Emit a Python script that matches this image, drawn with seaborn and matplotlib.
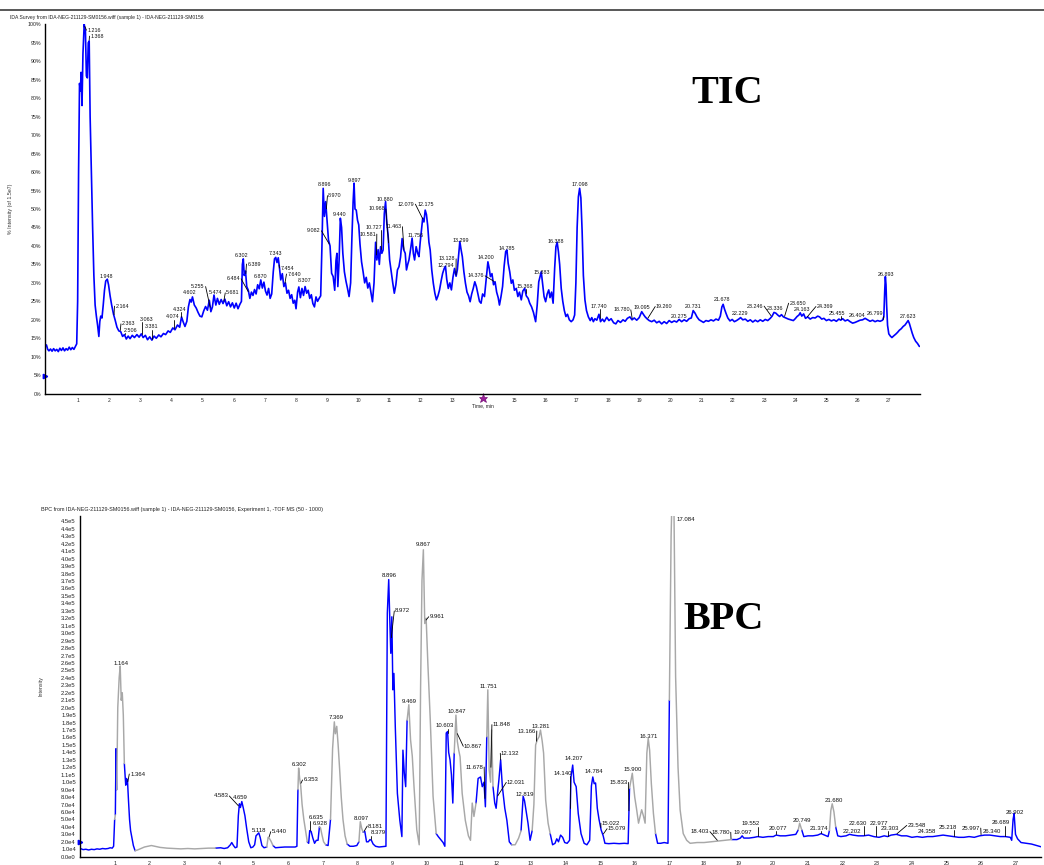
import numpy as np
import pandas as pd
import matplotlib
matplotlib.use("Agg")
import matplotlib.pyplot as plt
import seaborn as sns
from matplotlib.lines import Line2D

# ---------------- DATA ----------------
TIC_TITLE = "IDA Survey from IDA-NEG-211129-SM0156.wiff (sample 1) - IDA-NEG-211129-SM0156"
BPC_TITLE = "BPC from IDA-NEG-211129-SM0156.wiff (sample 1) - IDA-NEG-211129-SM0156, Experiment 1, -TOF MS (50 - 1000)"
TIC_YLABEL = "% Intensity (of 1.5e7)"
BPC_YLABEL = "Intensity"
XLABEL = "Time, min"

# TIC trace: time (min), % intensity
TIC_TIME = [0.00, 0.04, 0.08, 0.13, 0.18, 0.23, 0.28, 0.33, 0.38, 0.43, 0.48, 0.53, 0.58, 0.63, 0.68, 0.73, 0.78, 0.83, 0.88, 0.93,
            0.97, 1.00, 1.03, 1.06, 1.09, 1.11, 1.14, 1.17, 1.21, 1.25, 1.28, 1.31, 1.34, 1.37, 1.40, 1.44, 1.48, 1.52, 1.56, 1.60,
            1.64, 1.68, 1.71, 1.74, 1.78, 1.82, 1.86, 1.90, 1.95, 1.99, 2.04, 2.09, 2.15, 2.20, 2.26, 2.32, 2.38, 2.44, 2.50, 2.56,
            2.62, 2.68, 2.75, 2.82, 2.90, 2.97, 3.04, 3.10, 3.17, 3.24, 3.31, 3.38, 3.45, 3.52, 3.60, 3.67, 3.75, 3.82, 3.90, 3.97,
            4.05, 4.12, 4.20, 4.27, 4.33, 4.38, 4.44, 4.50, 4.55, 4.60, 4.64, 4.68, 4.74, 4.80, 4.86, 4.92, 4.98, 5.04, 5.10, 5.16,
            5.22, 5.27, 5.32, 5.37, 5.43, 5.48, 5.54, 5.60, 5.66, 5.72, 5.78, 5.84, 5.90, 5.96, 6.02, 6.08, 6.14, 6.20, 6.25, 6.28,
            6.31, 6.34, 6.38, 6.42, 6.47, 6.52, 6.57, 6.62, 6.67, 6.72, 6.77, 6.82, 6.87, 6.92, 6.97, 7.02, 7.07, 7.12, 7.17, 7.22,
            7.27, 7.31, 7.35, 7.39, 7.43, 7.47, 7.51, 7.56, 7.61, 7.66, 7.71, 7.76, 7.81, 7.86, 7.91, 7.96, 8.00, 8.05, 8.09, 8.14,
            8.19, 8.24, 8.29, 8.34, 8.39, 8.44, 8.49, 8.54, 8.59, 8.64, 8.69, 8.74, 8.79, 8.83, 8.87, 8.91, 8.95, 8.99, 9.04, 9.09,
            9.14, 9.19, 9.24, 9.28, 9.31, 9.34, 9.38, 9.42, 9.46, 9.50, 9.55, 9.60, 9.65, 9.70, 9.75, 9.79, 9.83, 9.86, 9.89, 9.93,
            9.97, 10.01, 10.05, 10.10, 10.15, 10.20, 10.25, 10.30, 10.35, 10.40, 10.45, 10.50, 10.55, 10.59, 10.63, 10.67, 10.71, 10.75, 10.79, 10.83,
            10.87, 10.91, 10.95, 11.00, 11.05, 11.10, 11.15, 11.20, 11.25, 11.30, 11.35, 11.40, 11.45, 11.50, 11.54, 11.58, 11.62, 11.67, 11.72, 11.76,
            11.80, 11.85, 11.90, 11.94, 11.98, 12.02, 12.06, 12.10, 12.14, 12.18, 12.22, 12.26, 12.30, 12.35, 12.40, 12.45, 12.50, 12.55, 12.60, 12.65,
            12.70, 12.75, 12.79, 12.83, 12.88, 12.93, 12.98, 13.03, 13.08, 13.13, 13.17, 13.21, 13.25, 13.29, 13.33, 13.38, 13.43, 13.48, 13.53, 13.58,
            13.63, 13.68, 13.73, 13.78, 13.83, 13.88, 13.93, 13.98, 14.04, 14.09, 14.15, 14.19, 14.23, 14.28, 14.33, 14.38, 14.43, 14.48, 14.52, 14.57,
            14.62, 14.67, 14.72, 14.76, 14.80, 14.85, 14.90, 14.95, 15.00, 15.06, 15.11, 15.16, 15.22, 15.27, 15.33, 15.38, 15.44, 15.49, 15.55, 15.61,
            15.68, 15.73, 15.78, 15.82, 15.86, 15.90, 15.95, 16.00, 16.05, 16.10, 16.14, 16.19, 16.24, 16.29, 16.33, 16.37, 16.41, 16.45, 16.50, 16.55,
            16.60, 16.65, 16.70, 16.76, 16.82, 16.88, 16.93, 16.97, 17.01, 17.05, 17.09, 17.13, 17.17, 17.21, 17.26, 17.31, 17.37, 17.43, 17.48, 17.53,
            17.58, 17.64, 17.71, 17.76, 17.82, 17.88, 17.96, 18.03, 18.10, 18.18, 18.25, 18.32, 18.40, 18.48, 18.55, 18.62, 18.70, 18.77, 18.84, 18.92,
            19.00, 19.08, 19.14, 19.19, 19.26, 19.32, 19.40, 19.48, 19.56, 19.64, 19.72, 19.80, 19.88, 19.96, 20.04, 20.12, 20.20, 20.28, 20.36, 20.44,
            20.52, 20.60, 20.67, 20.73, 20.79, 20.85, 20.92, 21.00, 21.06, 21.14, 21.22, 21.30, 21.38, 21.46, 21.54, 21.60, 21.65, 21.69, 21.73, 21.78,
            21.84, 21.91, 21.98, 22.05, 22.12, 22.19, 22.25, 22.32, 22.40, 22.48, 22.56, 22.64, 22.72, 22.80, 22.88, 22.96, 23.04, 23.12, 23.20, 23.26,
            23.32, 23.38, 23.44, 23.50, 23.56, 23.62, 23.70, 23.78, 23.86, 23.94, 24.00, 24.06, 24.12, 24.16, 24.21, 24.27, 24.33, 24.40, 24.48, 24.56,
            24.64, 24.72, 24.78, 24.85, 24.92, 25.00, 25.08, 25.16, 25.24, 25.32, 25.40, 25.46, 25.52, 25.60, 25.68, 25.76, 25.84, 25.92, 26.00, 26.08,
            26.16, 26.24, 26.32, 26.40, 26.48, 26.56, 26.64, 26.72, 26.80, 26.84, 26.87, 26.89, 26.91, 26.93, 26.96, 27.00, 27.05, 27.10, 27.15, 27.22,
            27.28, 27.34, 27.40, 27.46, 27.52, 27.57, 27.62, 27.66, 27.70, 27.75, 27.80, 27.86, 27.92, 27.98]
TIC_PCT = [13.2, 12.0, 11.6, 12.1, 11.5, 12.2, 11.6, 12.0, 11.4, 12.3, 11.7, 12.4, 11.6, 12.2, 11.8, 12.6, 11.9, 12.5, 12.0, 12.8,
           13.5, 25.0, 60.0, 84.0, 82.0, 87.0, 78.0, 92.0, 100.0, 98.0, 86.0, 85.5, 95.0, 95.5, 75.0, 60.0, 45.0, 32.0, 24.0, 21.0,
           18.5, 15.5, 19.5, 21.0, 20.5, 24.0, 28.0, 30.5, 31.0, 29.5, 26.5, 24.0, 21.5, 20.0, 18.0, 17.0, 16.8, 15.5, 16.0, 14.8,
           15.6, 14.9, 15.8, 15.2, 16.0, 15.3, 16.2, 15.2, 15.8, 14.6, 15.4, 14.5, 15.6, 15.0, 15.9, 15.4, 16.3, 16.0, 17.0, 16.6,
           17.8, 17.3, 18.6, 18.0, 20.8, 19.5, 18.2, 19.6, 23.5, 25.5, 24.8, 26.2, 24.0, 23.2, 22.0, 21.0, 20.8, 22.4, 23.6, 22.6,
           25.3, 22.2, 23.5, 26.7, 24.0, 25.8, 24.2, 25.5, 24.4, 25.6, 23.8, 24.9, 23.5, 24.6, 23.2, 24.5, 23.0, 24.2, 25.0, 35.0,
           36.5, 32.0, 33.2, 29.0, 28.0, 25.8, 27.5, 26.6, 28.2, 27.0, 29.5, 28.4, 30.8, 28.6, 30.2, 27.8, 26.7, 28.5, 25.8, 27.0,
           33.0, 36.5, 36.9, 35.5, 36.8, 34.0, 30.8, 32.5, 29.0, 30.0, 27.2, 28.0, 25.8, 26.8, 24.5, 25.3, 23.0, 27.5, 28.9, 26.0,
           28.5, 26.6, 29.0, 27.2, 28.0, 25.8, 26.8, 24.4, 23.5, 26.2, 25.0, 25.8, 26.5, 39.8, 55.6, 48.0, 52.0, 47.5, 41.6, 40.0,
           32.6, 31.7, 28.0, 36.0, 38.0, 29.0, 36.0, 47.5, 45.0, 38.0, 33.0, 30.5, 28.5, 26.3, 30.0, 42.0, 52.0, 57.0, 50.0, 49.7,
           47.0, 45.7, 40.5, 35.7, 33.0, 30.0, 31.5, 28.6, 30.0, 27.5, 24.9, 30.0, 41.0, 36.2, 39.0, 35.0, 39.8, 38.0, 38.9, 48.8,
           52.0, 46.1, 43.0, 36.2, 33.0, 30.0, 27.2, 29.5, 33.5, 34.4, 37.0, 42.0, 39.0, 38.0, 33.5, 35.0, 36.2, 39.0, 42.1, 38.0,
           36.2, 39.8, 38.0, 37.1, 41.0, 44.3, 47.5, 46.5, 49.7, 48.5, 45.5, 41.0, 38.9, 33.5, 29.9, 27.2, 25.4, 26.5, 28.1, 30.5,
           32.6, 33.9, 34.5, 31.0, 28.5, 30.0, 28.1, 31.5, 33.9, 31.8, 33.5, 37.5, 41.2, 39.0, 37.1, 33.0, 29.9, 27.5, 26.5, 24.9,
           27.0, 28.5, 30.3, 29.0, 27.0, 25.0, 24.5, 27.0, 26.3, 30.5, 35.7, 34.0, 31.7, 32.5, 29.5, 30.3, 27.5, 26.0, 24.0, 26.3,
           29.0, 34.5, 38.5, 38.9, 35.3, 33.0, 29.9, 30.8, 28.0, 28.5, 26.3, 27.5, 25.4, 27.8, 28.5, 26.5, 25.8, 24.5, 23.5, 22.0,
           19.5, 24.0, 30.3, 31.7, 33.0, 30.0, 26.3, 24.9, 27.0, 28.1, 26.0, 27.5, 24.5, 34.0, 39.8, 41.0, 38.5, 35.0, 28.5, 25.0,
           22.5, 20.9, 21.5, 20.0, 19.5, 20.0, 21.3, 30.0, 45.0, 53.3, 55.6, 53.0, 44.0, 32.0, 25.4, 22.5, 20.8, 19.8, 20.6, 19.5,
           20.3, 19.9, 21.5, 19.5, 20.2, 19.5, 20.7, 19.8, 20.3, 19.2, 18.9, 19.8, 19.3, 20.0, 19.6, 20.4, 20.8, 20.0, 20.5, 19.9,
           20.6, 22.2, 21.4, 20.8, 20.2, 19.8, 19.5, 19.9, 19.2, 19.6, 18.9, 19.5, 19.0, 19.8, 19.3, 19.7, 19.4, 20.1, 19.5, 20.0,
           19.6, 20.3, 20.5, 22.5, 21.8, 20.8, 20.0, 19.6, 19.3, 19.8, 19.6, 20.0, 19.7, 20.2, 19.9, 21.0, 23.5, 24.2, 23.0, 21.8,
           20.5, 19.7, 20.1, 19.5, 19.8, 20.2, 20.6, 20.0, 20.2, 19.6, 20.0, 19.4, 19.9, 19.5, 20.0, 19.6, 20.1, 19.8, 20.4, 21.0,
           22.0, 21.8, 21.3, 20.9, 21.4, 20.8, 20.5, 20.2, 20.0, 19.8, 20.3, 20.9, 21.3, 21.9, 21.0, 21.6, 20.4, 20.8, 20.2, 20.6,
           20.5, 21.0, 20.8, 20.2, 20.4, 19.8, 20.1, 19.7, 20.0, 19.6, 20.2, 19.9, 20.3, 19.7, 20.0, 19.5, 19.1, 19.3, 19.6, 19.9,
           20.0, 20.4, 20.0, 19.6, 19.9, 19.5, 19.8, 19.6, 19.9, 20.8, 28.0, 31.7, 29.5, 24.0, 18.5, 16.2, 15.6, 15.2, 15.6, 16.1,
           16.6, 17.2, 17.6, 18.2, 18.6, 19.2, 19.8, 19.0, 17.8, 16.4, 15.2, 14.2, 13.6, 12.8]

TIC_LABELS = ["1.216", "1.368", "1.948", "2.164", "2.363", "2.506", "3.063", "3.381", "4.074", "4.324",
              "4.602", "5.255", "5.474", "5.681", "6.302", "6.389", "6.484", "6.870", "7.343", "7.454",
              "7.640", "8.307", "8.896", "8.970", "9.082", "9.440", "9.897", "10.581", "10.727", "10.968",
              "10.880", "11.463", "11.756", "12.079", "12.175", "13.128", "12.794", "13.299", "14.200", "14.376",
              "14.785", "15.368", "15.883", "16.388", "17.098", "17.740", "18.780", "19.095", "19.260", "20.275",
              "20.731", "21.678", "22.229", "23.246", "23.336", "23.650", "24.163", "24.369", "25.455", "26.404",
              "26.799", "26.893", "27.623"]

# BPC trace: time (min), intensity in units of 1e4 counts
BPC_TIME = [0.00, 0.08, 0.16, 0.24, 0.32, 0.40, 0.48, 0.56, 0.64, 0.72, 0.80, 0.86, 0.92, 0.96, 0.99, 1.01, 1.03, 1.05, 1.08, 1.12,
            1.15, 1.18, 1.21, 1.24, 1.27, 1.29, 1.31, 1.33, 1.36, 1.39, 1.42, 1.45, 1.49, 1.53, 1.58, 1.65, 1.75, 1.85, 1.95, 2.05,
            2.15, 2.30, 2.50, 2.70, 2.90, 3.10, 3.30, 3.50, 3.70, 3.90, 4.05, 4.15, 4.25, 4.33, 4.37, 4.42, 4.47, 4.52, 4.56, 4.59,
            4.62, 4.66, 4.70, 4.75, 4.80, 4.86, 4.92, 4.98, 5.03, 5.07, 5.11, 5.15, 5.19, 5.24, 5.30, 5.38, 5.42, 5.45, 5.50, 5.56,
            5.63, 5.75, 5.90, 6.05, 6.20, 6.25, 6.28, 6.30, 6.33, 6.36, 6.40, 6.45, 6.50, 6.55, 6.59, 6.62, 6.66, 6.71, 6.76, 6.81,
            6.86, 6.90, 6.93, 6.97, 7.02, 7.08, 7.15, 7.22, 7.28, 7.33, 7.36, 7.40, 7.44, 7.48, 7.53, 7.58, 7.64, 7.70, 7.78, 7.88,
            7.98, 8.04, 8.08, 8.12, 8.16, 8.21, 8.26, 8.31, 8.36, 8.40, 8.45, 8.52, 8.62, 8.72, 8.82, 8.86, 8.90, 8.93, 8.96, 8.99,
            9.02, 9.05, 9.09, 9.15, 9.22, 9.28, 9.31, 9.35, 9.39, 9.43, 9.48, 9.53, 9.58, 9.63, 9.71, 9.78, 9.82, 9.86, 9.90, 9.94,
            9.98, 10.03, 10.10, 10.18, 10.27, 10.33, 10.40, 10.47, 10.52, 10.56, 10.60, 10.63, 10.67, 10.71, 10.75, 10.79, 10.84, 10.88, 10.92, 10.96,
            11.02, 11.11, 11.20, 11.26, 11.31, 11.36, 11.42, 11.48, 11.55, 11.60, 11.65, 11.69, 11.73, 11.76, 11.80, 11.84, 11.87, 11.91, 11.96, 12.00,
            12.04, 12.08, 12.13, 12.18, 12.25, 12.31, 12.38, 12.45, 12.55, 12.65, 12.72, 12.78, 12.82, 12.86, 12.92, 12.98, 13.04, 13.09, 13.14, 13.19,
            13.24, 13.28, 13.33, 13.37, 13.43, 13.50, 13.56, 13.63, 13.70, 13.75, 13.80, 13.86, 13.92, 13.98, 14.05, 14.12, 14.16, 14.21, 14.25, 14.31,
            14.37, 14.45, 14.54, 14.62, 14.70, 14.75, 14.79, 14.83, 14.87, 14.92, 14.97, 15.03, 15.09, 15.14, 15.25, 15.40, 15.55, 15.70, 15.81, 15.85,
            15.93, 16.00, 16.05, 16.11, 16.16, 16.20, 16.25, 16.30, 16.35, 16.39, 16.43, 16.48, 16.54, 16.60, 16.66, 16.75, 16.85, 16.96, 17.00, 17.05,
            17.08, 17.13, 17.18, 17.25, 17.31, 17.40, 17.50, 17.60, 17.80, 18.00, 18.20, 18.40, 18.60, 18.80, 18.95, 19.05, 19.10, 19.15, 19.30, 19.45,
            19.55, 19.70, 19.85, 20.00, 20.08, 20.20, 20.35, 20.50, 20.65, 20.72, 20.76, 20.82, 20.88, 21.00, 21.14, 21.28, 21.38, 21.48, 21.58, 21.62,
            21.66, 21.70, 21.75, 21.80, 21.86, 21.95, 22.10, 22.20, 22.30, 22.45, 22.60, 22.75, 22.90, 23.05, 23.20, 23.30, 23.40, 23.55, 23.70, 23.85,
            24.00, 24.15, 24.30, 24.45, 24.60, 24.75, 24.90, 25.05, 25.20, 25.35, 25.50, 25.65, 25.80, 25.95, 26.10, 26.25, 26.40, 26.55, 26.70, 26.84,
            26.88, 26.92, 26.95, 26.99, 27.05, 27.15, 27.30, 27.45, 27.60, 27.75, 27.80]
BPC_INT = [1.1, 0.95, 1.0, 0.9, 1.0, 0.95, 1.05, 1.0, 1.1, 1.05, 1.1, 1.2, 1.15, 1.4, 5.0, 5.6, 14.5, 9.0, 20.0, 24.0,
           25.6, 21.0, 22.0, 19.0, 12.5, 11.0, 9.6, 10.5, 10.3, 7.5, 5.0, 3.5, 2.5, 1.5, 0.8, 0.9, 1.1, 1.3, 1.4, 1.5,
           1.4, 1.25, 1.15, 1.1, 1.05, 1.1, 1.05, 1.1, 1.15, 1.15, 1.2, 1.1, 1.2, 1.6, 1.9, 1.5, 1.2, 1.3, 5.5, 7.1,
           6.6, 7.4, 6.6, 5.5, 3.8, 2.0, 1.2, 1.3, 1.6, 2.8, 3.0, 3.2, 2.6, 1.5, 1.2, 1.3, 2.6, 2.5, 2.1, 1.5,
           1.2, 1.25, 1.3, 1.3, 1.3, 1.4, 9.0, 11.9, 10.5, 9.5, 7.0, 5.0, 3.5, 2.0, 1.8, 3.5, 3.4, 2.5, 1.8, 2.2,
           2.2, 4.0, 3.9, 3.0, 2.0, 1.6, 1.5, 5.0, 14.5, 18.1, 16.5, 17.5, 15.0, 12.0, 8.0, 5.0, 2.8, 1.7, 1.4, 1.4,
           1.5, 2.0, 4.7, 3.8, 3.3, 3.4, 2.0, 2.0, 2.3, 2.2, 1.7, 1.4, 1.3, 1.35, 1.4, 32.7, 37.2, 32.0, 27.3, 32.2,
           22.4, 24.6, 17.4, 8.5, 4.9, 2.7, 14.3, 11.2, 9.4, 18.3, 20.4, 15.7, 13.5, 9.4, 3.6, 1.6, 22.8, 37.1, 41.2, 31.3,
           32.0, 25.9, 18.3, 8.1, 3.1, 2.7, 2.3, 1.9, 1.4, 16.6, 16.8, 14.0, 13.0, 11.0, 7.2, 13.9, 19.0, 15.5, 14.3, 13.4,
           8.5, 4.9, 2.8, 2.2, 7.2, 5.4, 7.2, 10.5, 10.7, 9.4, 10.0, 6.7, 16.1, 22.4, 11.6, 10.0, 17.0, 9.4, 7.2, 6.5,
           8.5, 10.3, 13.0, 9.4, 6.5, 4.9, 2.0, 1.6, 1.6, 2.5, 3.5, 8.1, 7.5, 6.3, 4.5, 2.2, 3.5, 7.0, 15.0, 15.7,
           16.1, 17.0, 15.5, 13.9, 7.6, 4.5, 3.1, 1.6, 1.8, 2.4, 2.0, 2.9, 2.6, 1.9, 1.8, 2.2, 10.7, 12.3, 10.0, 9.4,
           5.8, 3.1, 1.8, 1.6, 2.2, 9.5, 10.7, 9.8, 9.9, 6.5, 5.0, 3.6, 2.8, 1.8, 1.75, 1.8, 1.75, 1.8, 1.75, 9.2,
           11.2, 8.0, 6.5, 4.5, 5.5, 6.3, 5.5, 4.5, 13.9, 15.9, 14.3, 9.8, 5.8, 3.1, 1.8, 1.8, 1.9, 1.8, 21.0, 43.0,
           49.0, 48.0, 24.2, 12.0, 6.3, 3.1, 2.2, 1.8, 1.9, 1.9, 2.0, 2.1, 2.2, 2.3, 2.3, 2.5, 2.8, 2.5, 2.5, 2.6,
           2.7, 2.6, 2.7, 2.7, 2.9, 2.8, 2.8, 2.9, 3.0, 3.6, 4.5, 3.6, 2.7, 2.8, 2.8, 2.9, 3.1, 2.9, 2.7, 3.5,
           6.2, 7.1, 6.0, 4.0, 2.8, 2.7, 2.8, 3.0, 2.9, 2.8, 2.8, 2.9, 2.7, 2.6, 2.8, 2.7, 2.9, 3.0, 2.8, 2.8,
           2.6, 2.7, 2.6, 2.7, 2.7, 2.8, 2.9, 2.8, 2.7, 2.6, 2.6, 2.7, 2.6, 2.8, 2.9, 2.9, 2.8, 2.7, 2.7, 2.6,
           2.2, 5.0, 5.8, 3.0, 2.4, 1.9, 1.8, 1.7, 1.5, 1.3, 1.2]

# time windows drawn in grey in the BPC trace
BPC_GREY_WINDOWS = [(0.97, 1.02), (1.05, 1.28), (1.58, 4.02), (5.38, 5.60), (6.26, 6.58), (6.88, 7.10),
                    (7.18, 7.75), (8.03, 8.18), (9.42, 10.30), (10.77, 11.43), (11.70, 11.93), (12.45, 12.75),
                    (13.00, 13.60), (15.83, 16.62), (16.98, 18.90), (20.70, 20.86), (21.60, 21.85)]

BPC_LABELS = ["1.164", "1.364", "4.583", "4.659", "5.118", "5.440", "6.302", "6.353", "6.635", "6.928",
              "7.369", "8.097", "8.181", "8.379", "8.896", "8.972", "9.867", "9.961", "9.469", "10.603",
              "10.847", "10.867", "11.678", "11.751", "11.848", "12.132", "12.031", "12.819", "13.166", "13.281",
              "14.140", "14.207", "14.784", "15.022", "15.079", "15.833", "15.900", "16.371", "17.084", "18.403",
              "18.780", "19.097", "19.552", "20.077", "20.749", "21.374", "21.680", "22.202", "22.630", "22.977",
              "23.303", "23.548", "24.358", "25.218", "25.997", "26.340", "26.689", "26.902"]

TIC_YTICKS = [0, 5, 10, 15, 20, 25, 30, 35, 40, 45, 50, 55, 60, 65, 70, 75, 80, 85, 90, 95, 100]
TIC_YTICK_LABELS = ["0%", "5%", "10%", "15%", "20%", "25%", "30%", "35%", "40%", "45%", "50%", "55%", "60%",
                    "65%", "70%", "75%", "80%", "85%", "90%", "95%", "100%"]
XTICKS = [1, 2, 3, 4, 5, 6, 7, 8, 9, 10, 11, 12, 13, 14, 15, 16, 17, 18, 19, 20, 21, 22, 23, 24, 25, 26, 27]
TIC_XTICK_LABELS = ["1", "2", "3", "4", "5", "6", "7", "8", "9", "10", "11", "12", "13", "", "15", "16", "17",
                    "18", "19", "20", "21", "22", "23", "24", "25", "26", "27"]
BPC_XTICK_LABELS = ["1", "2", "3", "4", "5", "6", "7", "8", "9", "10", "11", "12", "13", "14", "15", "16", "17",
                    "18", "19", "20", "21", "22", "23", "24", "25", "26", "27"]
BPC_YTICKS = list(range(0, 46))
BPC_YTICK_LABELS = ["0.0e0", "1.0e4", "2.0e4", "3.0e4", "4.0e4", "5.0e4", "6.0e4", "7.0e4", "8.0e4", "9.0e4",
                    "1.0e5", "1.1e5", "1.2e5", "1.3e5", "1.4e5", "1.5e5", "1.6e5", "1.7e5", "1.8e5", "1.9e5",
                    "2.0e5", "2.1e5", "2.2e5", "2.3e5", "2.4e5", "2.5e5", "2.6e5", "2.7e5", "2.8e5", "2.9e5",
                    "3.0e5", "3.1e5", "3.2e5", "3.3e5", "3.4e5", "3.5e5", "3.6e5", "3.7e5", "3.8e5", "3.9e5",
                    "4.0e5", "4.1e5", "4.2e5", "4.3e5", "4.4e5", "4.5e5"]

# ---------------- LAYOUT (annotation placement, data units) ----------------
TIC_LABEL_POS = [(1.526, 98.4), (1.622, 96.8), (1.910, 31.6), (2.423, 23.7), (2.631, 18.9), (2.702, 17.2),
                 (3.224, 20.2), (3.375, 18.1), (4.058, 20.8), (4.282, 22.9), (4.603, 27.3), (4.859, 29.0),
                 (5.436, 27.3), (5.974, 27.3), (6.260, 37.4), (6.654, 35.1), (5.997, 31.1), (6.872, 31.8),
                 (7.337, 38.0), (7.712, 34.0), (7.936, 32.4), (8.288, 30.6), (8.897, 56.5), (9.250, 53.6),
                 (8.571, 44.1), (9.410, 48.4), (9.869, 57.6), (10.298, 43.2), (10.490, 45.1), (10.587, 50.0),
                 (10.837, 52.6), (11.119, 45.2), (11.837, 42.9), (11.535, 51.3), (12.151, 51.1), (12.840, 36.5),
                 (12.792, 34.8), (13.279, 41.6), (14.090, 36.9), (13.769, 31.9), (14.763, 39.4), (15.340, 29.0),
                 (15.891, 32.9), (16.333, 41.1), (17.103, 56.6), (17.721, 23.6), (18.439, 22.7), (19.090, 23.4),
                 (19.804, 23.6), (20.276, 21.0), (20.740, 23.6), (21.654, 25.4), (22.231, 21.8), (22.712, 23.7),
                 (23.353, 23.0), (24.080, 24.5), (24.208, 22.7), (24.955, 23.6), (25.330, 21.8), (25.981, 21.3),
                 (26.558, 21.8), (26.901, 32.4), (27.625, 20.8)]
TIC_LINKED = {"1.216", "1.368", "2.164", "2.363", "2.506", "3.063", "3.381", "4.074", "4.324", "5.255",
              "5.681", "6.389", "6.484", "7.454", "7.640", "8.970", "9.082", "10.581", "10.727", "10.968",
              "11.463", "12.079", "13.128", "14.376", "15.368", "17.740", "18.780", "19.260", "23.246",
              "23.650", "24.369", "25.455", "26.799"}

BPC_LABEL_POS = [(1.183, 25.96), (1.651, 11.10), (4.061, 8.15), (4.623, 7.92), (5.152, 3.58), (5.734, 3.36),
                 (6.312, 12.31), (6.652, 10.30), (6.817, 5.23), (6.926, 4.39), (7.374, 18.66), (8.095, 5.15),
                 (8.519, 4.12), (8.592, 3.22), (8.915, 37.68), (9.299, 32.98), (9.905, 41.84), (10.294, 32.21),
                 (9.486, 20.81), (10.505, 17.58), (10.865, 19.49), (11.339, 14.82), (11.368, 12.03), (11.786, 22.82),
                 (12.165, 17.72), (12.407, 13.88), (12.580, 9.98), (12.834, 8.41), (12.887, 16.87), (13.296, 17.54),
                 (13.925, 11.20), (14.254, 13.20), (14.805, 11.45), (15.310, 4.49), (15.489, 3.76), (15.533, 9.97),
                 (15.957, 11.64), (16.404, 16.07), (17.481, 45.32), (17.884, 3.36), (18.485, 3.28), (19.111, 3.28),
                 (19.351, 4.39), (20.130, 3.84), (20.823, 4.86), (21.324, 3.84), (21.757, 7.61), (22.266, 3.33),
                 (22.430, 4.50), (23.045, 4.50), (23.368, 3.84), (24.139, 4.20), (24.430, 3.36), (25.036, 3.94),
                 (25.700, 3.84), (26.297, 3.36), (26.566, 4.56), (26.981, 5.99)]
BPC_LINKED = {"1.364", "4.583", "5.440", "6.353", "6.635", "8.181", "8.379", "8.972", "9.961", "10.603",
              "10.867", "11.678", "11.848", "12.132", "12.031", "13.166", "14.140", "15.022", "15.079", "15.833",
              "18.403", "18.780", "19.552", "20.077", "21.374", "22.630", "22.977", "23.303", "23.548", "25.218",
              "25.997", "26.689"}

W, H = 1044, 865
BLUE = "#0000FF"
GREY = "#A8A8A8"

sns.set_theme(style="white")
plt.rcParams['font.family'] = ['Liberation Sans', 'DejaVu Sans']

fig = plt.figure(figsize=(W / 100, H / 100), dpi=100)
fig.patch.set_facecolor("white")


def px_axes(l, t, r, b):
    return fig.add_axes([l / W, 1 - b / H, (r - l) / W, (b - t) / H])


ax1 = px_axes(45.2, 24.3, 920.0, 393.7)
ax2 = px_axes(80.0, 516.0, 1040.8, 856.7)


def style_axis(ax, xt, xtl, yt, ytl, xfs, yfs):
    for s in ["top", "right"]:
        ax.spines[s].set_visible(False)
    for s in ["left", "bottom"]:
        ax.spines[s].set_color("black")
        ax.spines[s].set_linewidth(1.0)
    ax.set_xticks(xt)
    ax.set_xticklabels(xtl)
    ax.set_yticks(yt)
    ax.set_yticklabels(ytl)
    ax.tick_params(axis="x", length=2.0, width=0.6, pad=1.2, labelsize=xfs, colors="#222222", direction="out")
    ax.tick_params(axis="y", length=2.0, width=0.6, pad=1.0, labelsize=yfs, colors="#222222", direction="out")
    ax.set_facecolor("white")
    ax.grid(False)


def connectors(ax, times, values, labels, pos, linked, sx, sy, fs):
    em = fs * 100 / 72.0
    for lab, (tx, ty) in zip(labels, pos):
        ax.text(tx, ty, lab, fontsize=fs, ha="center", va="center", color="#111111", clip_on=False)
        if lab not in linked:
            continue
        rt = float(lab)
        pv = float(np.interp(rt, times, values))
        px, py = rt * sx, pv * sy
        cx, cy = tx * sx, ty * sy
        hw = ((len(lab) - 1) * 0.556 + 0.278) * em / 2
        hh = 0.36 * em
        if abs(cx - px) <= hw:
            ey = cy - hh - 0.8 if cy > py else cy + hh + 0.8
            ex = px
        else:
            sgn = 1 if cx > px else -1
            ex = cx - sgn * (hw + 0.8)
            ey = cy
        d = np.hypot(ex - px, ey - py)
        if d < 1.5:
            continue
        sx0 = px + (ex - px) / d * 1.0
        sy0 = py + (ey - py) / d * 1.0
        ax.add_line(Line2D([sx0 / sx, ex / sx], [sy0 / sy, ey / sy], color="black", lw=0.6, clip_on=False))


# ---------------- TIC ----------------
tic = pd.DataFrame({"time": TIC_TIME, "pct": TIC_PCT})
sns.lineplot(data=tic, x="time", y="pct", ax=ax1, color=BLUE, lw=1.2, estimator=None, sort=False)
ax1.set_xlim(-0.04, 28.0)
ax1.set_ylim(0, 100)
style_axis(ax1, XTICKS, TIC_XTICK_LABELS, TIC_YTICKS, TIC_YTICK_LABELS, 3.6, 3.8)
ax1.set_yticks(list(range(0, 101)), minor=True)
ax1.tick_params(axis="y", which="minor", length=1.0, width=0.4, color="#444444")
ax1.set_xlabel("")
ax1.set_ylabel(TIC_YLABEL, fontsize=3.8, color="#333333")
ax1.yaxis.set_label_coords(-0.0372, 0.5)
connectors(ax1, TIC_TIME, TIC_PCT, TIC_LABELS, TIC_LABEL_POS, TIC_LINKED, 31.2, 3.694, 3.9)
ax1.plot([0.0], [4.8], marker=">", ms=3.2, color=BLUE, clip_on=False,
         transform=ax1.get_yaxis_transform())
ax1.plot([14.0], [-0.012], marker="*", ms=6.5, color="#9A1E9A", mec="#6A006A", mew=0.4, clip_on=False,
         transform=ax1.get_xaxis_transform())
fig.text(482.7 / W, 1 - 405.7 / H, XLABEL, fontsize=3.6, ha="center", va="center", color="#222222")

# ---------------- BPC ----------------
t_arr = np.asarray(BPC_TIME)
in_grey = np.zeros(len(t_arr), dtype=bool)
for a, b in BPC_GREY_WINDOWS:
    in_grey |= (t_arr >= a) & (t_arr <= b)
seg_grey = in_grey[:-1] & in_grey[1:]          # colour of each segment between points
rows = []
run = 0
start = 0
for k in range(1, len(seg_grey) + 1):
    if k == len(seg_grey) or seg_grey[k] != seg_grey[start]:
        col = "grey" if seg_grey[start] else "blue"
        for j in range(start, k + 1):
            rows.append((BPC_TIME[j], BPC_INT[j], run, col))
        run += 1
        start = k
bpc = pd.DataFrame(rows, columns=["time", "inten", "run", "col"])
sns.lineplot(data=bpc, x="time", y="inten", units="run", hue="col", palette={"blue": BLUE, "grey": GREY},
             ax=ax2, lw=1.05, estimator=None, sort=False, legend=False)
ax2.set_xlim(-0.01, 27.72)
ax2.set_ylim(0, 45.73)
style_axis(ax2, XTICKS, BPC_XTICK_LABELS, BPC_YTICKS, BPC_YTICK_LABELS, 3.9, 4.2)
ax2.set_xlabel("")
ax2.set_ylabel(BPC_YLABEL, fontsize=3.8, color="#333333")
ax2.yaxis.set_label_coords(-0.0382, 0.5)
connectors(ax2, BPC_TIME, BPC_INT, BPC_LABELS, BPC_LABEL_POS, BPC_LINKED, 34.65, 7.45, 4.3)
ax2.plot([0.0], [2.0], marker=">", ms=3.2, color=BLUE, clip_on=False,
         transform=ax2.get_yaxis_transform())

# ---------------- figure texts ----------------
fig.text(10 / W, 1 - 17.3 / H, TIC_TITLE, fontsize=3.6, ha="left", va="center", color="#222222")
fig.text(40.7 / W, 1 - 510 / H, BPC_TITLE, fontsize=3.9, ha="left", va="center", color="#222222")
fig.text(727.5 / W, 1 - 93.7 / H, "TIC", fontsize=29, fontweight="bold", family="Liberation Serif",
         ha="center", va="center", color="black")
fig.text(724 / W, 1 - 619.5 / H, "BPC", fontsize=29, fontweight="bold", family="Liberation Serif",
         ha="center", va="center", color="black")
fig.add_artist(Line2D([0, 1], [1 - 9.6 / H, 1 - 9.6 / H], color="#4A4A4A", lw=1.3, transform=fig.transFigure))

fig.savefig("out.png", dpi=100, facecolor="white")
